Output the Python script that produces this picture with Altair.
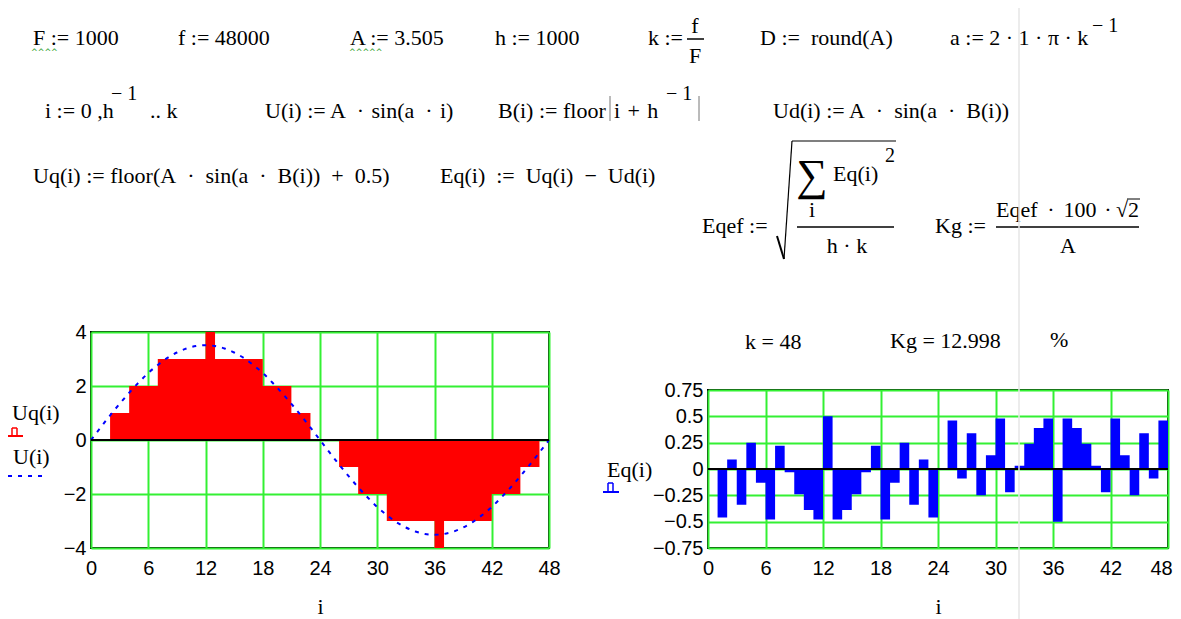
import altair as alt
import pandas as pd

# ---------------- data ----------------
i_vals = list(range(49))
uq_vals = [0, 0, 1, 1, 2, 2, 2, 3, 3, 3, 3, 3, 4, 3, 3, 3, 3, 3, 2, 2, 2, 1, 1, 0,
           0, 0, -1, -1, -2, -2, -2, -3, -3, -3, -3, -3, -4, -3, -3, -3, -3, -3, -2, -2, -2, -1, -1, 0,
           0]
u_vals = [0.0, 0.46, 0.91, 1.34, 1.75, 2.13, 2.48, 2.78, 3.04, 3.24, 3.39, 3.48, 3.51,
          3.48, 3.39, 3.24, 3.04, 2.78, 2.48, 2.13, 1.75, 1.34, 0.91, 0.46, 0.0,
          -0.46, -0.91, -1.34, -1.75, -2.13, -2.48, -2.78, -3.04, -3.24, -3.39, -3.48, -3.51,
          -3.48, -3.39, -3.24, -3.04, -2.78, -2.48, -2.13, -1.75, -1.34, -0.91, -0.46, 0.0]
eq_vals = [0.0, -0.46, 0.09, -0.34, 0.25, -0.13, -0.48, 0.22, -0.03, -0.24, -0.39, -0.48,
           0.5, -0.48, -0.39, -0.24, -0.03, 0.22, -0.48, -0.13, 0.25, -0.34, 0.09, -0.46,
           0.0, 0.46, -0.09, 0.34, -0.25, 0.13, 0.48, -0.22, 0.03, 0.24, 0.39, 0.48,
           -0.5, 0.48, 0.39, 0.24, 0.03, -0.22, 0.48, 0.13, -0.25, 0.34, -0.09, 0.46,
           0.0]
x_ticks = [0, 6, 12, 18, 24, 30, 36, 42, 48]
uq_ticks = [-4, -2, 0, 2, 4]
eq_ticks = [-0.75, -0.5, -0.25, 0, 0.25, 0.5, 0.75]

# ---------------- styles ----------------
SERIF = "Liberation Serif, Times New Roman, serif"
SANS = "Liberation Sans, Arial, sans-serif"
GREEN = "#33f033"
RED = "#ff0000"
BLUE = "#0000ff"
FS = 22           # formula font size
E = "\u2002"      # en space used around Mathcad binary operators
T = "\u2004"      # three-per-em space

LW, LH = 458, 216      # left plot area
RW, RH = 460, 158      # right plot area
LOX, LOY = 91, 332     # left plot origin (page px)
ROX, ROY = 708, 390    # right plot origin (page px)
SPX, SPY = 708, 332    # spacer origin

one = alt.Data(values=[{"a": 1}])


def txt(px, py, s, size=FS, font=SERIF, align="left", color="black", ox=LOX, oy=LOY):
    return alt.Chart(one).mark_text(
        text=s, font=font, fontSize=size, align=align, baseline="alphabetic", color=color
    ).encode(x=alt.value(px - ox), y=alt.value(py - oy))


def seg(x1, y1, x2, y2, w=1.5, color="black", ox=LOX, oy=LOY, dash=None):
    kw = dict(color=color, strokeWidth=w)
    if dash is not None:
        kw["strokeDash"] = dash
    return alt.Chart(one).mark_rule(**kw).encode(
        x=alt.value(x1 - ox), y=alt.value(y1 - oy),
        x2=alt.value(x2 - ox), y2=alt.value(y2 - oy))


LABEL_EXPR = "replace(format(datum.value, '.2~f'), '-', '\u2212')"


def x_axis(last_shift=0):
    kw = {}
    if last_shift:
        kw["labelOffset"] = {"condition": {"test": "datum.value == 48", "value": last_shift},
                             "value": 0}
    return alt.Axis(values=x_ticks, tickCount=len(x_ticks), title="i", grid=True,
                    gridColor=GREEN, gridWidth=2,
                    domain=False, ticks=False, tickSize=0, labelPadding=10,
                    labelFont=SANS, labelFontSize=20, labelColor="black", labelFlush=False,
                    labelOverlap=False, titleFont=SERIF, titleFontSize=22,
                    titleFontWeight="normal", titleColor="black", titlePadding=18, **kw)


def y_axis(vals):
    return alt.Axis(values=vals, tickCount=len(vals), title=None, labelExpr=LABEL_EXPR,
                    grid=True, gridColor=GREEN,
                    gridWidth=2, domain=False, ticks=False, tickSize=0, labelPadding=5,
                    labelFont=SANS, labelFontSize=20, labelColor="black", labelFlush=False,
                    labelOverlap=False)


# ---------------- left chart ----------------
dfL = pd.DataFrame({"i": i_vals, "Uq": uq_vals, "U": u_vals})
xL = alt.X("i:Q", scale=alt.Scale(domain=[0, 48], nice=False, zero=False), axis=x_axis())
yL = alt.Y("Uq:Q", scale=alt.Scale(domain=[-4, 4], nice=False), axis=y_axis(uq_ticks))

areaL = alt.Chart(dfL).mark_area(interpolate="step-after", color=RED, opacity=1).encode(x=xL, y=yL)
lineU = alt.Chart(dfL).mark_line(color=BLUE, strokeWidth=2, strokeDash=[4, 6],
                                 interpolate="monotone").encode(x="i:Q", y="U:Q")
zeroL = alt.Chart(one).mark_rule(color="black", strokeWidth=2).encode(y=alt.datum(0))

SQ = "#2a9d2a"
anno = [
    # line 1
    txt(33, 45, "F := 1000"), txt(31, 55, "^^^^", size=8, font="DejaVu Sans", color=SQ),
    txt(178, 45, "f := 48000"),
    txt(350, 45, "A := 3.505"), txt(349, 55, "^^^^^", size=8, font="DejaVu Sans", color=SQ),
    txt(495, 45, "h := 1000"),
    txt(648, 45, "k :="), txt(695, 33, "f", align="center"), seg(687, 39, 704, 39),
    txt(695, 63, "F", align="center"),
    txt(760, 45, "D :=" + E + "round(A)"),
    txt(950, 45, "a := 2 · 1 · π · k"), txt(1092, 32, "− 1", size=20),
    # line 2
    txt(45, 118, "i := 0 ,h"), txt(111, 100, "− 1", size=20), txt(150, 118, ".. k"),
    txt(265, 118, "U(i) := A" + E + "·" + T + "sin(a" + E + "·" + T + "i)"),
    txt(498, 118, "B(i) := floor"),
    seg(610, 96, 610, 121, w=1, color="#777777"),
    txt(614, 118, "i" + T + "+" + T + "h"), txt(666, 100, "− 1", size=20),
    seg(699, 96, 699, 121, w=1, color="#777777"),
    txt(773, 118, "Ud(i) := A" + E + "·" + E + "sin(a" + E + "·" + E + "B(i))"),
    # line 3
    txt(33, 183, "Uq(i) := floor(A" + E + "·" + E + "sin(a" + E + "·" + E + "B(i))" + E + "+" + E + "0.5)"),
    txt(440, 183, "Eq(i)" + E + ":=" + E + "Uq(i)" + E + "−" + E + "Ud(i)"),
    # Eqef
    txt(702, 233, "Eqef :="),
    seg(777, 236, 784, 259, w=2), seg(784, 259, 792, 141, w=1.2), seg(792, 141, 896, 141, w=1.2),
    txt(812, 190, "∑", size=44, align="center"),
    txt(833, 181, "Eq(i)"), txt(885, 162, "2", size=20),
    txt(812, 217, "i", align="center"),
    seg(797, 227, 894, 227),
    txt(847, 253, "h · k", align="center"),
    # Kg
    txt(935, 233, "Kg :="),
    seg(996, 227, 1139, 227),
    txt(996, 217, "Eqef"), txt(1051, 217, "·", align="center"),
    txt(1080, 217, "100", align="center"), txt(1108, 217, "·", align="center"),
    txt(1139, 217, "√2", align="right"), seg(1127, 199, 1140, 199, w=1),
    txt(1068, 253, "A", align="center"),
    # legend (left)
    txt(12, 420, "Uq(i)"),
    seg(7, 436, 23, 436, w=2, color=RED),
    seg(12, 428, 12, 436, w=1.5, color=RED), seg(17, 428, 17, 436, w=1.5, color=RED),
    seg(12, 428, 17, 428, w=1.5, color=RED),
    txt(13, 464, "U(i)"),
    seg(8, 476, 46, 476, w=2, color=BLUE, dash=[4, 6]),
]

left = alt.layer(areaL, lineU, zeroL, *anno).properties(
    width=LW, height=LH, view=alt.ViewBackground(stroke="black", strokeWidth=2))

# ---------------- right chart ----------------
dfR = pd.DataFrame({"i": i_vals, "Eq": eq_vals})
xR = alt.X("i:Q", scale=alt.Scale(domain=[0, 48], nice=False, zero=False), axis=x_axis(-7))
yR = alt.Y("Eq:Q", scale=alt.Scale(domain=[-0.75, 0.75], nice=False), axis=y_axis(eq_ticks))
areaR = alt.Chart(dfR).mark_area(interpolate="step-after", color=BLUE, opacity=1).encode(x=xR, y=yR)
zeroR = alt.Chart(one).mark_rule(color="black", strokeWidth=2).encode(y=alt.datum(0))

annoR = [
    txt(607, 477, "Eq(i)", ox=ROX, oy=ROY),
    seg(603, 492, 619, 492, w=2, color=BLUE, ox=ROX, oy=ROY),
    seg(608, 483, 608, 492, w=1.5, color=BLUE, ox=ROX, oy=ROY),
    seg(613, 483, 613, 492, w=1.5, color=BLUE, ox=ROX, oy=ROY),
    seg(608, 483, 613, 483, w=1.5, color=BLUE, ox=ROX, oy=ROY),
    # faint page-break line of the worksheet
    seg(1019, 0, 1019, 619, w=1.5, color="#e6e6e6", ox=ROX, oy=ROY),
]

right = alt.layer(areaR, zeroR, *annoR).properties(
    width=RW, height=RH, view=alt.ViewBackground(stroke="black", strokeWidth=2))

spacer = alt.layer(
    txt(745, 349, "k = 48", ox=SPX, oy=SPY),
    txt(890, 348, "Kg = 12.998", ox=SPX, oy=SPY),
    txt(1050, 347, "%", ox=SPX, oy=SPY),
).properties(width=RW, height=48, view=alt.ViewBackground(stroke="transparent"))

right_col = alt.vconcat(spacer, right, spacing=ROY - LOY - 48, bounds="flush")

chart = alt.hconcat(left, right_col, spacing=ROX - LOX - LW, bounds="flush").properties(
    autosize=alt.AutoSizeParams(type="none"),
    padding={"left": LOX - 8, "top": LOY - 8, "right": 1165 - (LOX - 8), "bottom": 611 - (LOY - 8)},
    background="white",
).configure_view(stroke="transparent")

chart.save("out.html", embed_options={"renderer": "svg", "actions": False})
